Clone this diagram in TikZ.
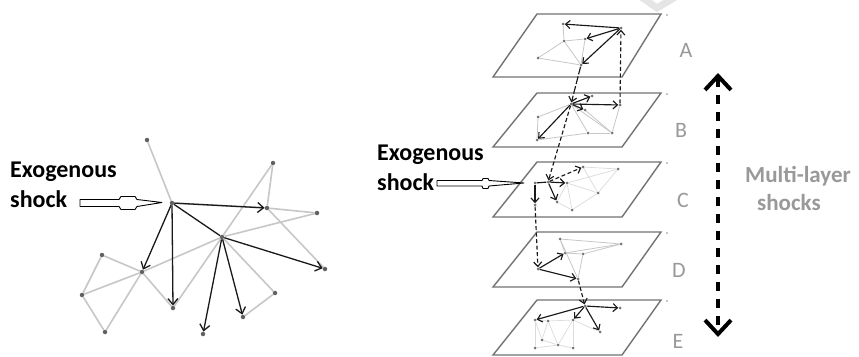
\documentclass[tikz,border=0pt]{standalone}
\usepackage{fontspec}
\setmainfont{Carlito}
\usetikzlibrary{arrows.meta}
\begin{document}
\begin{tikzpicture}[x=1pt,y=-1pt,
  dotL/.style={circle,fill=black!62,inner sep=0pt,minimum size=4.5pt},
  dotR/.style={circle,fill=black!55,inner sep=0pt,minimum size=3pt},
  tinydot/.style={circle,fill=black!45,inner sep=0pt,minimum size=1.6pt},
  gL/.style={draw=black!22,line width=1.6pt},
  gR/.style={draw=black!22,line width=0.8pt},
  gRf/.style={draw=black!14,line width=0.7pt},
  arL/.style={draw=black!90,line width=1.3pt,-{Straight Barb[length=6pt,width=10pt]}},
  arR/.style={draw=black!90,line width=1.15pt,-{Straight Barb[length=4.5pt,width=8pt]}},
  dashR/.style={arR,dash pattern=on 4pt off 2.5pt},
  layer/.style={draw=black!55,line width=1.4pt,line join=miter},
  blabel/.style={font=\fontsize{24}{28}\selectfont\bfseries,inner sep=0pt,anchor=base west},
  letter/.style={font=\fontsize{22}{26}\selectfont,text=black!40,inner sep=0pt},
  mltext/.style={font=\fontsize{23}{27}\selectfont\bfseries,text=black!40,inner sep=0pt,anchor=base west},
  hollow/.style={draw=black,line width=0.9pt,fill=white,line join=round}
]
\useasboundingbox (0,0) rectangle (859,356);
\fill[white] (0,0) rectangle (859,356);

% faint watermark chevron
\draw[black!10,line width=7pt] (640,-4) -- (657,8) -- (677,-4);

% ================= LEFT NETWORK =================
\node[blabel] (exoL) at (10,177) {Exogenous};
\node[blabel] (shkL) at (10,207) {shock};

\node[dotL] (L1) at (147,140) {};
\node[dotL] (H1) at (172,203) {};
\node[dotL] (L3) at (267,208) {};
\node[dotL] (L4) at (273,163) {};
\node[dotL] (L5) at (317,213) {};
\node[dotL] (H2) at (222,237) {};
\node[dotL] (L7) at (325,269) {};
\node[dotL] (L8) at (102,255) {};
\node[dotL] (L9) at (142,272) {};
\node[dotL] (L10) at (82,295) {};
\node[dotL] (L11) at (105,332) {};
\node[dotL] (L12) at (173,308) {};
\node[dotL] (L13) at (203,334) {};
\node[dotL] (L14) at (243,317) {};
\node[dotL] (L15) at (275,293) {};

\foreach \a/\b in {L1/H1,L4/L3,L4/H2,L3/L5,L3/L7,L5/H2,H2/L9,L9/L10,L8/L9,L8/L10,
  L10/L11,L9/L11,L9/L12,H2/L12,H2/L15,L15/L14,H1/L3}
  \draw[gL] (\a) -- (\b);

\draw[arL] (H1) -- (L3);
\draw[arL] (H1) -- (L9);
\draw[arL] (H1) -- (L12);
\draw[draw=black!90,line width=1.3pt] (H1) -- (H2);
\draw[arL] (H2) -- (L7);
\draw[arL] (H2) -- (L13);
\draw[arL] (H2) -- (L14);

% hollow shock arrow (left)
\draw[hollow] (80,199.5) -- (119,199.5) -- (121,196.5) -- (135,196.5) -- (137,199.5)
  -- (162,202.5) -- (137,206.5) -- (135,209.5) -- (121,209.5) -- (119,206.5) -- (80,206.5) -- cycle;

% ================= RIGHT: LAYERS =================
\foreach \t/\b in {14/77,93/147,162/217,232/287,300/355}
  \draw[layer] (537,\t) -- (661,\t) -- (622,\b) -- (493,\b) -- cycle;
\foreach \t [count=\i] in {15,94,163,233,301}
  \node[tinydot] (corner\i) at (667,\t) {};

\node[letter] (lA) at (686,50) {A};
\node[letter] (lB) at (681,130) {B};
\node[letter] (lC) at (683,200) {C};
\node[letter] (lD) at (679,270) {D};
\node[letter] (lE) at (678,341) {E};

% Layer A
\node[dotR] (a1) at (563,24) {};
\node[dotR] (a2) at (621,28) {};
\node[dotR] (a3) at (564,41) {};
\node[dotR] (a4) at (585,39) {};
\node[dotR] (a5) at (538,58) {};
\node[dotR] (a6) at (581,65) {};
\foreach \a/\b in {a1/a3,a3/a4,a3/a5,a5/a6,a3/a6,a4/a6}
  \draw[gR] (\a) -- (\b);
\draw[arR] (a2) -- (a1);
\draw[arR] (a2) -- (a4);
\draw[arR] (a2) -- (a6);

% Layer B
\node[dotR] (b1) at (571,104) {};
\node[dotR] (b2) at (620,105) {};
\node[dotR] (b3) at (538,117) {};
\node[dotR] (b4) at (588,133) {};
\node[dotR] (b5) at (537,140) {};
\node[dotR] (b6) at (612,133) {};
\node[dotR] (b7) at (585,110) {};
\node[dotR] (b8) at (592,96) {};
\foreach \a/\b in {b3/b5,b5/b4,b4/b6,b1/b4,b1/b6,b7/b6,b2/b6,b3/b1}
  \draw[gR] (\a) -- (\b);
\draw[arR] (b1) -- (b2);
\draw[arR] (b1) -- (b5);
\draw[arR] (b1) -- (b7);
\draw[arR] (b1) -- (b8);

% inter-layer A-B
\draw[arR,dash pattern=on 8pt off 2pt] (a6) -- (b1);
\draw[dashR] (b2) -- (a2);

% Layer C
\node[dotR] (c1) at (535,183) {};
\node[dotR] (c0) at (548,182) {};
\node[dotR] (cR) at (567,183) {};
\node[dotR] (cD) at (535,205) {};
\node[dotR] (cU) at (583,167) {};
\node[dotR] (cS) at (557,202) {};
\node[dotR] (cN1) at (618,169) {};
\node[dotR] (cN2) at (598,193) {};
\node[dotR] (cN3) at (572,210) {};
\foreach \a/\b in {cU/cN1,cN1/cN2,cN2/cN3,cN3/cS,cR/cN2,cU/cN2,cR/cN1,cS/cR,cR/cN3}
  \draw[gRf] (\a) -- (\b);
\draw[dashR] (b1) -- (c0);
\draw[draw=black!90,line width=1.15pt] (c1) -- (c0);
\draw[arR] (c0) -- (cR);
\draw[arR] (c1) -- (cD);
\draw[dashR] (c0) -- (cU);
\draw[arR] (c0) -- (cS);

% exogenous shock (right)
\node[blabel] (exoR) at (377,160) {Exogenous};
\node[blabel] (shkR) at (377,190) {shock};
\draw[hollow] (437,180.5) -- (482,180.5) -- (483,178.5) -- (488,178.5) -- (489,180.5)
  -- (524,183) -- (489,186) -- (488,188.5) -- (483,188.5) -- (482,186) -- (437,186) -- cycle;

% Layer D
\node[dotR] (d1) at (538,269) {};
\node[dotR] (d2) at (565,253) {};
\node[dotR] (d3) at (578,279) {};
\node[dotR] (d4) at (560,239) {};
\node[dotR] (d5) at (621,244) {};
\node[dotR] (d6) at (583,254) {};
\foreach \a/\b in {d4/d5,d4/d2,d2/d6,d6/d5,d2/d5,d6/d3,d4/d3}
  \draw[gR] (\a) -- (\b);
\draw[dashR] (cD) -- (d1);
\draw[arR] (d1) -- (d2);
\draw[arR] (d1) -- (d3);

% Layer E
\node[dotR] (e1) at (585,306) {};
\node[dotR] (e2) at (620,308) {};
\node[dotR] (e3) at (535,320) {};
\node[dotR] (e4) at (573,320) {};
\node[dotR] (e5) at (600,332) {};
\node[dotR] (e6) at (548,321) {};
\node[dotR] (e7) at (542,340) {};
\node[dotR] (e8) at (558,345) {};
\node[dotR] (e9) at (573,348) {};
\node[dotR] (e10) at (535,348) {};
\foreach \a/\b in {e3/e6,e6/e4,e3/e10,e7/e8,e8/e9,e6/e7,e4/e9,e4/e8,e6/e8,e3/e7,e5/e4,e10/e8}
  \draw[gRf] (\a) -- (\b);
\draw[dashR] (d3) -- (e1);
\draw[arR] (e1) -- (e2);
\draw[arR] (e1) -- (e3);
\draw[arR] (e1) -- (e4);
\draw[arR] (e1) -- (e5);

% multi-layer shocks arrow
\coordinate (mlT) at (718,73);
\coordinate (mlB) at (718,337);
\draw[line width=4pt,dash pattern=on 9pt off 8pt,
  {Straight Barb[length=14pt,width=26pt]}-{Straight Barb[length=14pt,width=26pt]}] (mlT) -- (mlB);
\node[mltext] (ml1) at (745,182) {Multi-layer};
\node[mltext] (ml2) at (757,210) {shocks};
\end{tikzpicture}
\end{document}
